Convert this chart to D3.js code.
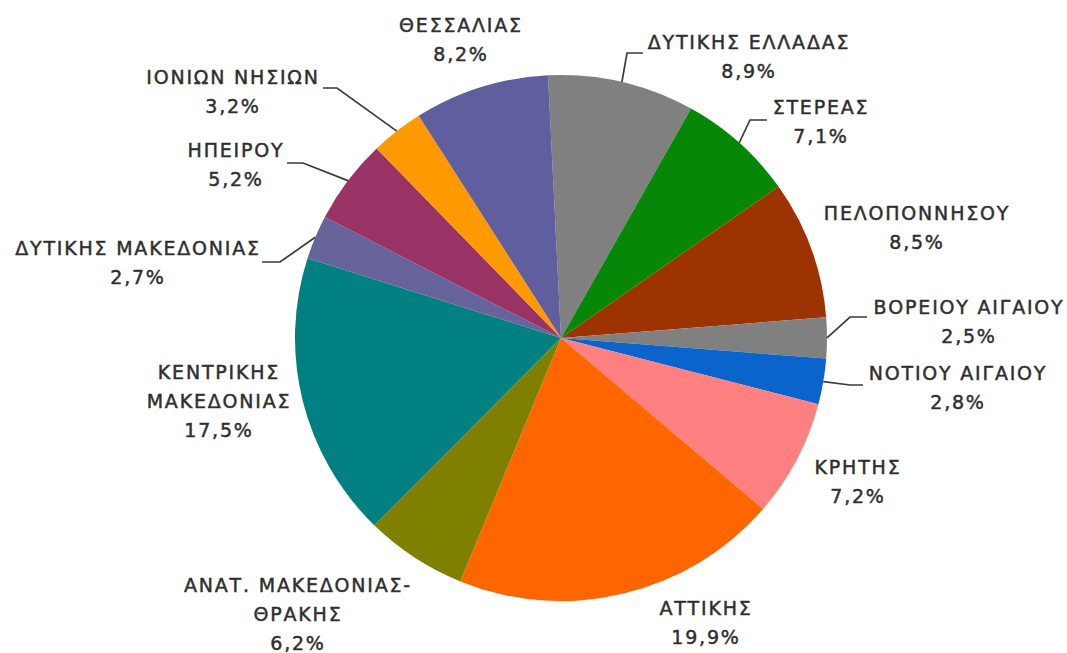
<!DOCTYPE html>
<html>
<head>
<meta charset="utf-8">
<script src="https://cdn.jsdelivr.net/npm/d3@7"></script>
<style>
  html, body { margin: 0; padding: 0; background: #ffffff; }
  svg { display: block; }
  .lbl { font-family: "DejaVu Sans", Verdana, sans-serif; font-size: 19px; fill: #2e2e2e;
         stroke: #2e2e2e; stroke-width: 0.45px; letter-spacing: 1.8px; }
</style>
</head>
<body>
<svg id="chart" width="1067" height="653"></svg>
<script>
// Regions, clockwise from the top of the pie
const regions = [
  ["ΔΥΤΙΚΗΣ ΕΛΛΑΔΑΣ"],
  ["ΣΤΕΡΕΑΣ"],
  ["ΠΕΛΟΠΟΝΝΗΣΟΥ"],
  ["ΒΟΡΕΙΟΥ ΑΙΓΑΙΟΥ"],
  ["ΝΟΤΙΟΥ ΑΙΓΑΙΟΥ"],
  ["ΚΡΗΤΗΣ"],
  ["ΑΤΤΙΚΗΣ"],
  ["ΑΝΑΤ. ΜΑΚΕΔΟΝΙΑΣ-", "ΘΡΑΚΗΣ"],
  ["ΚΕΝΤΡΙΚΗΣ", "ΜΑΚΕΔΟΝΙΑΣ"],
  ["ΔΥΤΙΚΗΣ ΜΑΚΕΔΟΝΙΑΣ"],
  ["ΗΠΕΙΡΟΥ"],
  ["ΙΟΝΙΩΝ ΝΗΣΙΩΝ"],
  ["ΘΕΣΣΑΛΙΑΣ"]
];

// Share of each region (%)
const shares = [8.9, 7.1, 8.5, 2.5, 2.8, 7.2, 19.9, 6.2, 17.5, 2.7, 5.2, 3.2, 8.2];

// Slice fills
const fills = [
  "#808080", "#078707", "#9c3300", "#808080", "#0b63cc", "#ff8080",
  "#ff6600", "#808000", "#008080", "#67639b", "#993366", "#ff9900", "#5f5f9f"
];

// Label placement: centre x and y of the first text line
const labelAt = [
  [748, 42], [820, 107], [916, 213], [968, 307], [957, 373], [857, 467],
  [705, 608], [297, 585], [218, 372], [137, 248], [235, 150], [232, 77], [460, 25]
];

// Leader lines: elbow point and horizontal tail length (null = no leader)
const leaders = [
  [[627, 53], 16], [[750, 120], 17], null, [[850, 317], 17], [[850, 385], 13], null,
  null, null, null, [[280, 262], -18], [[303, 163], -16], [[337, 88], -14], null
];

const cx = 561, cy = 338, rx = 266, ry = 263;
const start = -2.8 * Math.PI / 180;
const lineGap = 29;

const svg = d3.select("#chart");
const g = svg.append("g")
  .attr("transform", `translate(${cx},${cy}) scale(1,${ry / rx})`);

const pie = d3.pie().sort(null).value(d => d)
  .startAngle(start).endAngle(start + 2 * Math.PI);
const arcs = pie(shares);
const arc = d3.arc().innerRadius(0).outerRadius(rx);

g.selectAll("path.slice")
  .data(arcs)
  .join("path")
  .attr("class", "slice")
  .attr("d", arc)
  .attr("fill", (d, i) => fills[i]);

const fmt = v => v.toFixed(1).replace(".", ",") + "%";

// Leader lines from the slice edge to the label
arcs.forEach((d, i) => {
  const L = leaders[i];
  if (!L) return;
  const mid = (d.startAngle + d.endAngle) / 2;
  const edge = [cx + rx * Math.sin(mid), cy - ry * Math.cos(mid)];
  const elbow = L[0];
  const tail = [elbow[0] + L[1], elbow[1]];
  svg.append("polyline")
    .attr("points", [edge, elbow, tail].map(p => p.join(",")).join(" "))
    .attr("fill", "none")
    .attr("stroke", "#3a3a3a")
    .attr("stroke-width", 1.7);
});

// Labels: name lines followed by the share
regions.forEach((names, i) => {
  const lines = names.concat([fmt(shares[i])]);
  const [x, y] = labelAt[i];
  const t = svg.append("text")
    .attr("class", "lbl")
    .attr("text-anchor", "middle");
  lines.forEach((s, k) => {
    t.append("tspan")
      .attr("x", x + 1)
      .attr("y", y + k * lineGap)
      .attr("dy", "0.36em")
      .text(s);
  });
});
</script>
</body>
</html>
